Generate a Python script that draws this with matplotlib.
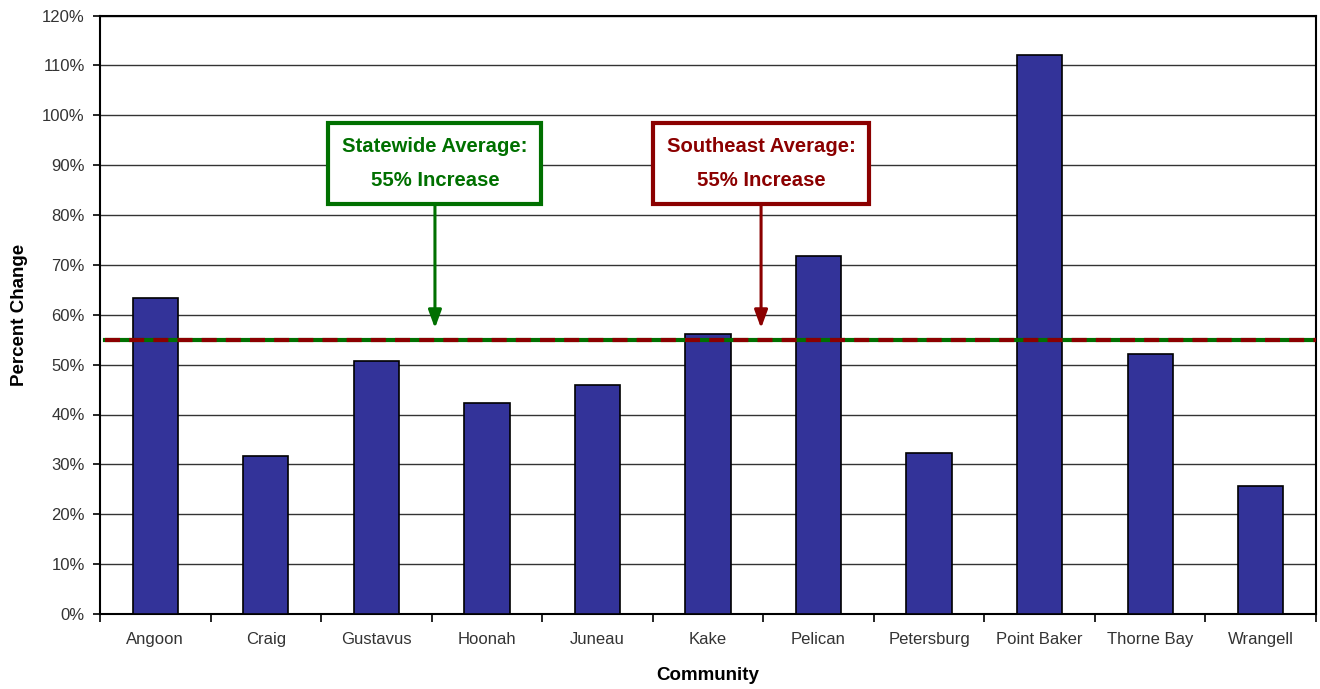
import numpy as np
import matplotlib.pyplot as plt
from matplotlib.ticker import MultipleLocator, FuncFormatter

# Datos
communities = ['Angoon', 'Craig', 'Gustavus', 'Hoonah', 'Juneau', 'Kake',
               'Pelican', 'Petersburg', 'Point Baker', 'Thorne Bay', 'Wrangell']
pct_change = [63.3, 31.7, 50.8, 42.4, 46.0, 56.1, 71.8, 32.3, 112.0, 52.1, 25.7]
statewide_avg = 55
southeast_avg = 55

plt.rcParams['font.family'] = ['Liberation Sans', 'DejaVu Sans']

fig = plt.figure(figsize=(13.2, 6.89), dpi=100)
ax = fig.add_axes([100 / 1320, 1 - 614 / 689, 1216 / 1320, 598.5 / 689])

x = np.arange(len(communities))
ax.bar(x, pct_change, width=0.41, color='#333399', edgecolor='black',
       linewidth=1.2, zorder=3)

# Lineas de promedio: verde continua con rayas rojas encima
ax.axhline(statewide_avg, xmin=0.004, color='#007000', linewidth=3, zorder=4)
ax.axhline(southeast_avg, xmin=0.004, color='#8b0000', linewidth=3,
           dashes=(3.6, 2.2), zorder=5)

ax.set_xlim(-0.5, len(communities) - 0.5)
ax.set_ylim(0, 120)
ax.yaxis.set_major_locator(MultipleLocator(10))
ax.yaxis.set_major_formatter(FuncFormatter(lambda v, p: f'{v:.0f}%'))
ax.grid(axis='y', color='#333333', linewidth=1, zorder=0)

ax.set_xticks(x)
ax.set_xticklabels(communities)
ax.set_xticks(np.arange(len(communities) + 1) - 0.5, minor=True)
ax.tick_params(axis='x', which='major', length=0, pad=13, labelsize=12,
               labelcolor='#333333')
ax.tick_params(axis='x', which='minor', length=6, width=1.2, direction='out')
ax.tick_params(axis='y', length=5, width=1.2, direction='out', pad=6,
               labelsize=12, labelcolor='#333333')

for s in ax.spines.values():
    s.set_linewidth(1.5)
    s.set_color('black')

ax.set_xlabel('Community', fontsize=13.5, fontweight='bold', labelpad=14)
ax.set_ylabel('Percent Change', fontsize=13.5, fontweight='bold', labelpad=10)

# Cajas de anotacion con flechas
arrow_style = '-|>,head_width=0.22,head_length=0.6'
ax.annotate('Statewide Average:\n55% Increase', xy=(2.53, 57.3),
            xytext=(2.53, 90.3), ha='center', va='center', fontsize=14.6,
            fontweight='bold', color='#007000', linespacing=2.0,
            bbox=dict(boxstyle='square,pad=0.68', fc='white', ec='#007000', lw=3),
            arrowprops=dict(arrowstyle=arrow_style, color='#007000', lw=2.2,
                            mutation_scale=18, shrinkA=0, shrinkB=0))
ax.annotate('Southeast Average:\n55% Increase', xy=(5.48, 57.3),
            xytext=(5.48, 90.3), ha='center', va='center', fontsize=14.6,
            fontweight='bold', color='#8b0000', linespacing=2.0,
            bbox=dict(boxstyle='square,pad=0.68', fc='white', ec='#8b0000', lw=3),
            arrowprops=dict(arrowstyle=arrow_style, color='#8b0000', lw=2.2,
                            mutation_scale=18, shrinkA=0, shrinkB=0))

fig.savefig('out.png', dpi=100)
